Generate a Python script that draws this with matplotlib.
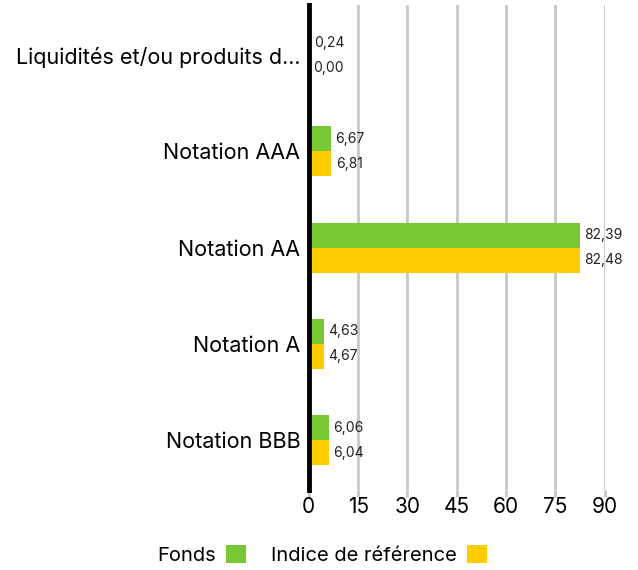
import matplotlib.pyplot as plt
import numpy as np

categories = ["Liquidités et/ou produits d...", "Notation AAA", "Notation AA",
              "Notation A", "Notation BBB"]
fonds = [0.24, 6.67, 82.39, 4.63, 6.06]
indice = [0.00, 6.81, 82.48, 4.67, 6.04]
labels_fonds = ["0,24", "6,67", "82,39", "4,63", "6,06"]
labels_indice = ["0,00", "6,81", "82,48", "4,67", "6,04"]
xticks = [0, 15, 30, 45, 60, 75, 90]

plt.rcParams['font.family'] = ['Inter', 'DejaVu Sans']

green = '#76c932'
yellow = '#ffcc00'

fig = plt.figure(figsize=(6.38, 5.70), dpi=100)
ax = fig.add_axes([0.484, 0.14, 0.464, 0.851])

y = np.arange(len(categories))
h = 0.26
b1 = ax.barh(y - h / 2, fonds, height=h, color=green, label='Fonds')
b2 = ax.barh(y + h / 2, indice, height=h, color=yellow, label='Indice de référence')

for bars, labs in ((b1, labels_fonds), (b2, labels_indice)):
    for bar, lab in zip(bars, labs):
        ax.annotate(lab, (bar.get_width(), bar.get_y() + bar.get_height() / 2),
                    xytext=(3.2, 0), textcoords='offset points', va='center',
                    ha='left', fontsize=10, color='#222222', annotation_clip=False)

ax.set_xlim(0, 90)
ax.set_ylim(len(categories) - 0.48, -0.52)
ax.set_yticks(y)
ax.set_yticklabels(categories, fontsize=15.5)
ax.set_xticks(xticks)
ax.set_xticklabels([str(t) for t in xticks], fontsize=15)

ax.xaxis.grid(True, color='#c8c8c8', linewidth=2)
ax.set_axisbelow(True)
for s in ['top', 'right', 'bottom']:
    ax.spines[s].set_visible(False)
ax.spines['left'].set_linewidth(3.5)
ax.spines['left'].set_color('black')
ax.tick_params(axis='y', length=0, pad=6)
ax.tick_params(axis='x', length=5, width=2, color='#c8c8c8', pad=0)

fig.legend(handles=[b1, b2], loc='center', bbox_to_anchor=(0.505, 0.027),
           ncol=2, frameon=False, markerfirst=False, fontsize=14.5,
           handlelength=1.0, handleheight=1.0, columnspacing=1.2,
           handletextpad=0.5)

plt.savefig('out.png', dpi=100)
